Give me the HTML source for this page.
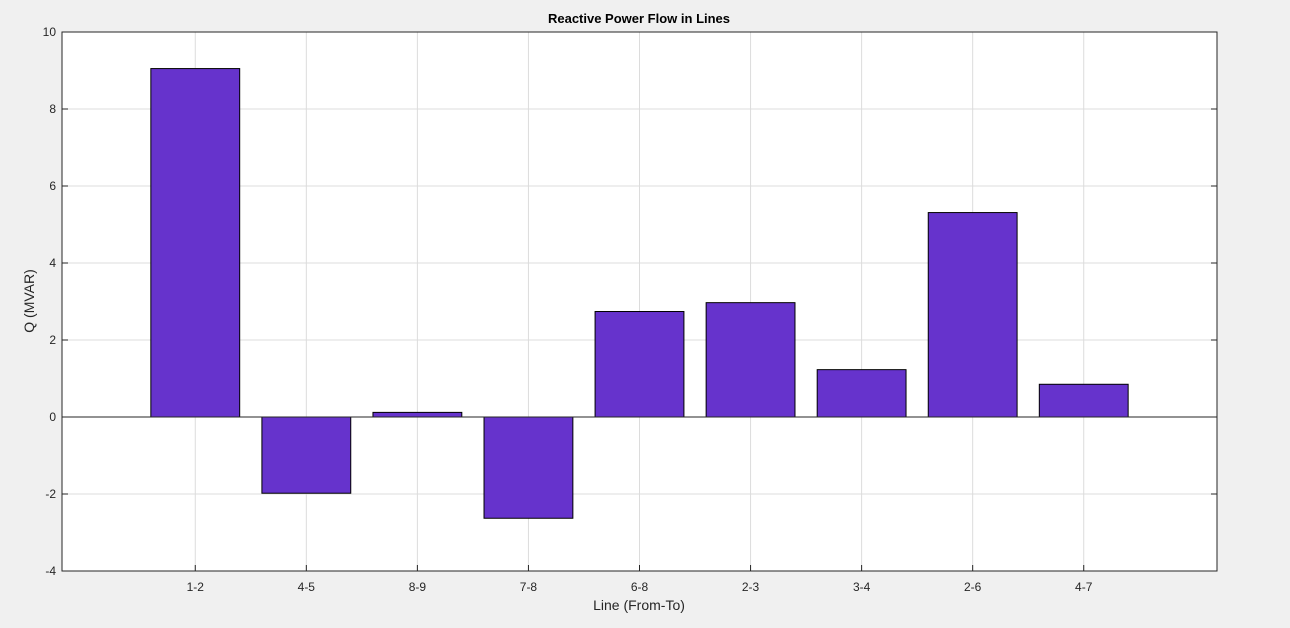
<!DOCTYPE html>
<html><head><meta charset="utf-8"><style>
body{margin:0;background:#f0f0f0;width:1290px;height:623px;overflow:hidden;font-family:"Liberation Sans",sans-serif}
</style></head><body>
<svg id="chart" width="1290" height="623" xmlns="http://www.w3.org/2000/svg">
<rect x="0" y="0" width="1290" height="623" fill="#f0f0f0"/>
<rect x="62" y="32" width="1155" height="539" fill="#ffffff"/>
<g id="grid"></g><g id="bars"></g><g id="axes"></g>
<text x="639" y="23" text-anchor="middle" font-size="13" font-weight="bold" fill="#000">Reactive Power Flow in Lines</text>
<text x="639" y="610" text-anchor="middle" font-size="14" fill="#262626">Line (From-To)</text>
<text transform="translate(34,301) rotate(-90)" text-anchor="middle" font-size="14" fill="#262626">Q (MVAR)</text>
</svg>
<script>
const categories=["1-2","4-5","8-9","7-8","6-8","2-3","3-4","2-6","4-7"];
const values=[9.05,-1.98,0.12,-2.63,2.74,2.97,1.23,5.31,0.85];
const yTicks=[-4,-2,0,2,4,6,8,10];
const L=62,R=1217,T=32,B=571,yMin=-4,yMax=10,xMin=-0.2,xMax=categories.length+1.2;
const ns="http://www.w3.org/2000/svg";
function xs(v){return L+(v-xMin)/(xMax-xMin)*(R-L);}
function ys(v){return B-(v-yMin)/(yMax-yMin)*(B-T);}
function mk(tag,at,parent){const e=document.createElementNS(ns,tag);for(const k in at)e.setAttribute(k,at[k]);document.getElementById(parent).appendChild(e);return e;}
yTicks.forEach(t=>{
 const g=mk('line',{x1:L,x2:R,y1:ys(t),y2:ys(t),stroke:'#dcdcdc','stroke-width':1},'grid');
 
 
 const tk=mk('line',{x1:L,x2:L+6,y1:ys(t),y2:ys(t),stroke:'#262626'},'axes');
 
 
 const tk2=mk('line',{x1:R,x2:R-6,y1:ys(t),y2:ys(t),stroke:'#262626'},'axes');
 
 
 const lb=mk('text',{x:L-6,y:ys(t)+4,'text-anchor':'end','font-size':12,fill:'#262626'},'axes');
 lb.textContent=t;
 
 
});
categories.forEach((c,i)=>{
 const x=xs(i+1);
 const g=mk('line',{x1:x,x2:x,y1:T,y2:B,stroke:'#dcdcdc'},'grid');
 
 
 const w=xs(0.8)-xs(0);
 const v=values[i];
 const r=mk('rect',{x:x-w/2,y:Math.min(ys(v),ys(0)),width:w,height:Math.abs(ys(v)-ys(0)),fill:'#6633cc',stroke:'#000','stroke-width':1},'bars');
 
 
 const tk=mk('line',{x1:x,x2:x,y1:B,y2:B-6,stroke:'#262626'},'axes');
 
 
 const lb=mk('text',{x:x,y:B+20,'text-anchor':'middle','font-size':12,fill:'#262626'},'axes');
 lb.textContent=c;
 
 
});
const base=mk('line',{x1:L,x2:R,y1:ys(0),y2:ys(0),stroke:'#262626'},'axes');


const fr=mk('rect',{x:L,y:T,width:R-L,height:B-T,fill:'none',stroke:'#262626'},'axes');


</script>
</body></html>
